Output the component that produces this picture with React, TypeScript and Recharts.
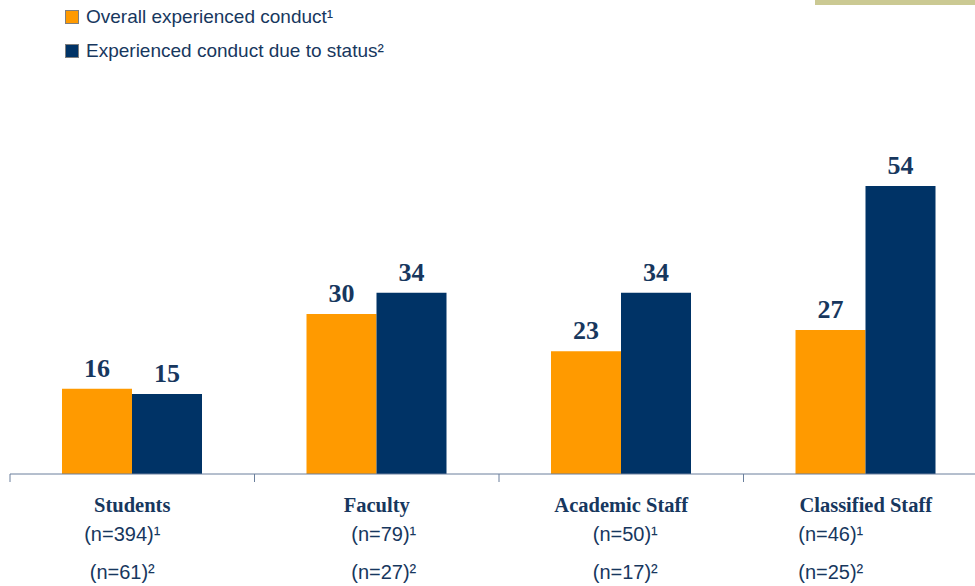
import { Bar, BarChart, LabelList, Legend, XAxis, YAxis } from "recharts"

const categories = ["Students", "Faculty", "Academic Staff", "Classified Staff"]
const overallValues = [16, 30, 23, 27]
const statusValues = [15, 34, 34, 54]
const overallCounts = ["(n=394)¹", "(n=79)¹", "(n=50)¹", "(n=46)¹"]
const statusCounts = ["(n=61)²", "(n=27)²", "(n=17)²", "(n=25)²"]

const seriesNames = ["Overall experienced conduct¹", "Experienced conduct due to status²"]

const ORANGE = "#ff9a00"
const NAVY = "#003366"
const TEXT = "#17375e"
const AXIS = "#6a7f9c"
const AXIS_Y = 474
const BAND = 244.5
// the n= lines are not centred under the category names in the original slide
const countShift = [-10, 7, 4, -35]

const data = categories.map((name, i) => ({
  name,
  overall: overallValues[i],
  status: statusValues[i],
  nOverall: overallCounts[i],
  nStatus: statusCounts[i],
}))

function CategoryTick(props: any) {
  const { x, index } = props
  const d = data[index]
  const shift = countShift[index] ?? 0
  const left = x - BAND / 2
  return (
    <g>
      <line x1={left} y1={AXIS_Y} x2={left} y2={AXIS_Y + 8} stroke={AXIS} strokeWidth={1} />
      <text
        x={x}
        y={AXIS_Y + 38}
        textAnchor="middle"
        fill={TEXT}
        fontFamily="'Liberation Serif', 'Times New Roman', serif"
        fontWeight="bold"
        fontSize={20.5}
      >
        {d.name}
      </text>
      <text
        x={x + shift}
        y={AXIS_Y + 67}
        textAnchor="middle"
        fill={TEXT}
        fontFamily="'Liberation Sans', Arial, sans-serif"
        fontSize={20}
      >
        {d.nOverall}
      </text>
      <text
        x={x + shift}
        y={AXIS_Y + 105}
        textAnchor="middle"
        fill={TEXT}
        fontFamily="'Liberation Sans', Arial, sans-serif"
        fontSize={20}
      >
        {d.nStatus}
      </text>
    </g>
  )
}

function LegendBox() {
  const colors = [ORANGE, NAVY]
  return (
    <div style={{ fontFamily: "'Liberation Sans', Arial, sans-serif", fontSize: 19, color: TEXT }}>
      {seriesNames.map((label, i) => (
        <div key={label} style={{ display: "flex", alignItems: "center", height: 34 }}>
          <span
            style={{
              display: "inline-block",
              width: 12,
              height: 12,
              background: colors[i],
              border: "1px solid #7f7f7f",
              marginRight: 7,
            }}
          />
          <span>{label}</span>
        </div>
      ))}
    </div>
  )
}

export default function App() {
  return (
    <div
      style={{
        position: "absolute",
        left: 0,
        top: 0,
        width: 975,
        height: 586,
        overflow: "hidden",
        background: "#fff",
      }}
    >
      <div style={{ position: "absolute", left: 815, top: 0, width: 160, height: 5, background: "#cbc993" }} />
      <BarChart
        width={990}
        height={586}
        data={data}
        margin={{ top: 86, right: 2, left: 10, bottom: 0 }}
        barGap={0}
        barSize={70}
      >
        <Legend
          verticalAlign="top"
          align="left"
          height={68}
          content={<LegendBox />}
          wrapperStyle={{ position: "absolute", top: 0, left: 65, width: 500 }}
        />
        <YAxis hide domain={[0, 60]} />
        <XAxis
          dataKey="name"
          height={112}
          interval={0}
          axisLine={{ stroke: AXIS, strokeWidth: 1 }}
          tickLine={false}
          tick={(p: any) => <CategoryTick {...p} />}
        />
        <Bar dataKey="overall" fill={ORANGE} isAnimationActive={false}>
          <LabelList
            dataKey="overall"
            position="top"
            offset={12}
            fill={TEXT}
            fontFamily="'Liberation Serif', 'Times New Roman', serif"
            fontWeight="bold"
            fontSize={26}
          />
        </Bar>
        <Bar dataKey="status" fill={NAVY} isAnimationActive={false}>
          <LabelList
            dataKey="status"
            position="top"
            offset={12}
            fill={TEXT}
            fontFamily="'Liberation Serif', 'Times New Roman', serif"
            fontWeight="bold"
            fontSize={26}
          />
        </Bar>
      </BarChart>
    </div>
  )
}
